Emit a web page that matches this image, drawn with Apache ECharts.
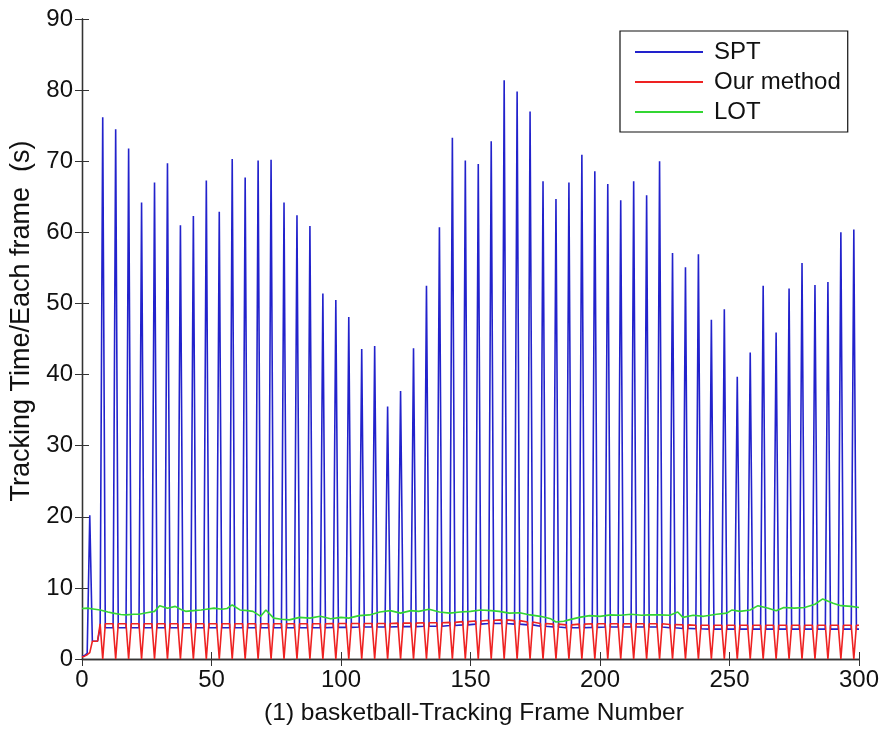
<!DOCTYPE html>
<html>
<head>
<meta charset="utf-8">
<script src="https://cdn.jsdelivr.net/npm/echarts@6/dist/echarts.min.js"></script>
<style>html,body{margin:0;padding:0;background:#fff;}#c{width:884px;height:731px;}</style>
</head>
<body>
<div id="c"></div>
<script>
// ---- data ----
const xTicks = [0, 50, 100, 150, 200, 250, 300];
const yTicks = [0, 10, 20, 30, 40, 50, 60, 70, 80, 90];

// first frames (before the regular key-frame pattern)
const sptLeadFrames = [0, 1, 2, 3, 4, 5, 6];
const sptLeadValues = [0.4, 0.5, 0.8, 20.2, 2.5, 2.5, 2.5];
const ourLeadFrames = [0, 1, 2, 3, 4, 5, 6];
const ourLeadValues = [0.3, 0.4, 0.6, 0.9, 2.5, 2.5, 2.5];

// key frames (SPT spikes / our-method dips)
const spikeFrames = [8,13,18,23,28,33,38,43,48,53,58,63,68,73,78,83,88,93,98,103,108,113,118,123,128,133,138,143,148,153,158,163,168,173,178,183,188,193,198,203,208,213,218,223,228,233,238,243,248,253,258,263,268,273,278,283,288,293,298];
const sptPeaks = [76.2,74.5,71.8,64.2,67.0,69.7,61.0,62.3,67.3,62.9,70.3,67.7,70.1,70.2,64.2,62.4,60.9,51.4,50.5,48.1,43.6,44.0,35.5,37.7,43.7,52.5,60.7,73.3,70.1,69.6,72.8,81.4,79.8,77.0,67.2,64.7,67.0,70.9,68.6,66.8,64.5,67.2,65.2,70.0,57.1,55.1,56.9,47.7,49.2,39.7,43.1,52.5,45.9,52.1,55.7,52.6,53.0,60.0,60.4];
const sptBase = [4.4,4.4,4.4,4.4,4.4,4.4,4.4,4.4,4.4,4.4,4.4,4.4,4.4,4.4,4.4,4.4,4.4,4.4,4.45,4.45,4.5,4.5,4.5,4.55,4.55,4.6,4.6,4.7,4.8,4.9,5.0,5.0,4.9,4.8,4.6,4.5,4.4,4.4,4.45,4.5,4.5,4.5,4.5,4.5,4.4,4.3,4.25,4.2,4.2,4.2,4.2,4.2,4.2,4.2,4.2,4.2,4.2,4.2,4.2];
const ourDips = [0,0,0,0,0,0,0,0,0,0,0,0,0,0,0,0,0,0,0,0,0,0,0,0,0,0,0,0,0,0,0,0,0,0,0,0,0,0,0,0,0,0,0,0,0,0,0,0,0,0,0,0,0,0,0,0,0,0,0];
const ourBase = [4.95,4.95,4.95,4.95,4.95,4.95,4.95,4.95,4.95,4.95,4.95,4.95,4.95,4.95,4.95,4.95,4.95,4.95,5.0,5.0,5.0,5.0,5.0,5.05,5.05,5.1,5.1,5.15,5.25,5.35,5.45,5.5,5.4,5.2,5.0,4.9,4.8,4.9,4.95,4.95,4.95,4.95,4.95,4.95,4.85,4.8,4.75,4.75,4.75,4.75,4.75,4.75,4.75,4.75,4.75,4.75,4.75,4.75,4.75];
const lastFrame = 300;

const lotFrames = [0,2,5,7,10,12,15,17,20,22,25,28,30,33,36,38,40,43,46,48,51,54,56,58,61,64,66,69,71,74,77,80,84,88,92,96,100,103,107,111,115,119,123,127,130,134,138,142,146,150,154,158,161,165,169,173,177,181,183,186,188,192,196,200,204,208,212,216,219,223,227,230,232,236,240,245,249,251,254,258,261,265,268,271,275,279,283,286,290,293,297,300];
const lotValues = [7.1,7.15,7.0,6.9,6.6,6.45,6.25,6.2,6.3,6.3,6.5,6.7,7.5,7.15,7.4,7.0,6.7,6.8,6.9,7.0,7.15,7.0,7.1,7.6,6.9,6.8,6.7,6.0,6.9,5.75,5.6,5.5,5.85,5.75,6.0,5.65,5.85,5.75,6.1,6.2,6.6,6.8,6.45,6.8,6.7,7.0,6.6,6.45,6.6,6.7,6.9,6.8,6.7,6.45,6.5,6.2,6.0,5.65,5.2,5.3,5.5,5.85,6.1,6.0,6.2,6.15,6.3,6.15,6.2,6.2,6.15,6.6,5.85,6.15,6.0,6.3,6.45,6.9,6.7,6.9,7.5,7.15,6.8,7.25,7.15,7.25,7.7,8.45,7.85,7.5,7.4,7.25];

// ---- build series tables ----
function buildSpiky(leadF, leadV, peaks, bases) {
  const d = leadF.map((f, i) => [f, leadV[i]]);
  spikeFrames.forEach((f, i) => {
    d.push([f - 1, bases[i]]);
    d.push([f, peaks[i]]);
    d.push([f + 1, bases[i]]);
  });
  d.push([lastFrame, bases[bases.length - 1]]);
  return d;
}
const sptData = buildSpiky(sptLeadFrames, sptLeadValues, sptPeaks, sptBase);
const ourData = buildSpiky(ourLeadFrames, ourLeadValues, ourDips, ourBase);
const lotData = lotFrames.map((f, i) => [f, lotValues[i]]);

const FONT = '"Liberation Sans", Arial, Helvetica, sans-serif';
const AX = '#333';
const chart = echarts.init(document.getElementById('c'), null, {renderer: 'canvas'});
const mkLine = (name, data, color) => ({
  name, type: 'line', data, showSymbol: false, symbol: 'none', animation: false,
  lineStyle: {color, width: 1.6}, itemStyle: {color}, xAxisIndex: 0, yAxisIndex: 0
});
chart.setOption({
  animation: false,
  backgroundColor: '#fff',
  grid: {left: 82, right: 25, top: 19, bottom: 70, containLabel: false},
  legend: {
    orient: 'vertical', left: 620, top: 31,
    data: ['SPT', 'Our method', 'LOT'],
    icon: 'rect', itemWidth: 68, itemHeight: 2, itemGap: 6,
    padding: [9, 7, 8, 15],
    borderColor: '#111', borderWidth: 1.2, backgroundColor: '#fff',
    textStyle: {fontFamily: FONT, fontSize: 24, color: '#111', padding: [0, 0, 0, 6]}
  },
  xAxis: [{
    type: 'value', min: 0, max: 300, interval: 50, position: 'bottom',
    name: '(1) basketball-Tracking Frame Number', nameLocation: 'middle', nameGap: 42,
    nameTextStyle: {fontFamily: FONT, fontSize: 24.5, color: '#111', padding: [0, 0, 0, 7]},
    axisLine: {show: true, lineStyle: {color: AX, width: 1.3}},
    axisTick: {show: true, inside: true, length: 7, lineStyle: {color: AX}},
    axisLabel: {fontFamily: FONT, fontSize: 24, color: '#111', margin: 9, formatter: v => xTicks.includes(v) ? String(v) : ''},
    splitLine: {show: false}
  }, {
    type: 'value', min: 0, max: 300, interval: 50, position: 'top',
    axisLine: {show: true, lineStyle: {color: AX, width: 1.3}},
    axisTick: {show: true, inside: true, length: 7, lineStyle: {color: AX}},
    axisLabel: {show: false}, splitLine: {show: false}
  }],
  yAxis: [{
    type: 'value', min: 0, max: 90, interval: 10, position: 'left',
    name: 'Tracking Time/Each frame  (s)', nameLocation: 'middle', nameGap: 42,
    nameTextStyle: {fontFamily: FONT, fontSize: 27, color: '#111', padding: [0, 0, 0, 36]},
    axisLine: {show: true, lineStyle: {color: AX, width: 1.3}},
    axisTick: {show: true, inside: true, length: 7, lineStyle: {color: AX}},
    axisLabel: {fontFamily: FONT, fontSize: 24, color: '#111', margin: 9, formatter: v => yTicks.includes(v) ? String(v) : ''},
    splitLine: {show: false}
  }, {
    type: 'value', min: 0, max: 90, interval: 10, position: 'right',
    axisLine: {show: true, lineStyle: {color: AX, width: 1.3}},
    axisTick: {show: true, inside: true, length: 7, lineStyle: {color: AX}},
    axisLabel: {show: false}, splitLine: {show: false}
  }],
  series: [
    mkLine('SPT', sptData, '#2222cc'),
    mkLine('Our method', ourData, '#ee2222'),
    mkLine('LOT', lotData, '#33d633')
  ]
});
</script>
</body>
</html>
